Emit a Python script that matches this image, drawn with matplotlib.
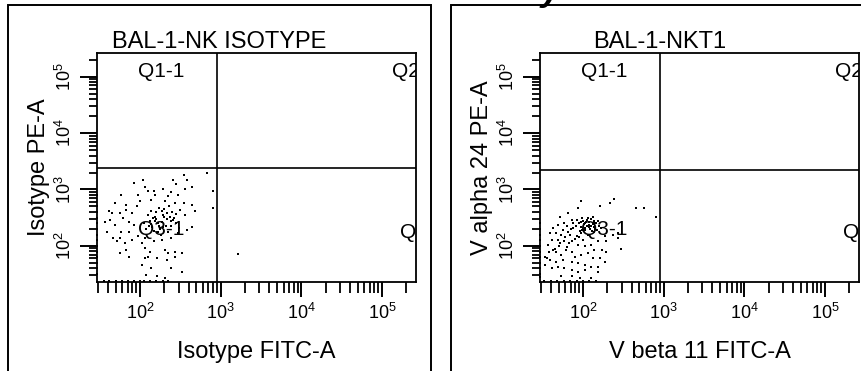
import numpy as np
import matplotlib
matplotlib.use("Agg")
import matplotlib.pyplot as plt
import matplotlib.patches as patches

plt.rcParams["font.family"] = ["Liberation Sans", "DejaVu Sans"]
plt.rcParams["mathtext.default"] = "regular"

# events as (log10 FITC-A, log10 PE-A)
iso_events = [
    (2.83, 3.29), (2.54, 3.26), (2.41, 3.17), (2.45, 3.10), (2.58, 3.17),
    (2.04, 3.17), (1.92, 3.12), (2.10, 2.98), (2.17, 2.98), (2.29, 3.01),
    (2.39, 2.96), (2.56, 3.01), (2.64, 3.05), (2.91, 2.98), (2.06, 3.05),
    (2.19, 2.91), (2.35, 2.89), (2.47, 2.91), (1.98, 2.91), (1.77, 2.91),
    (2.00, 2.79), (1.83, 2.73), (1.69, 2.76), (1.61, 2.61), (1.65, 2.58),
    (1.75, 2.58), (1.83, 2.64), (1.90, 2.58), (1.96, 2.70), (2.14, 2.82),
    (2.31, 2.79), (2.43, 2.76), (2.54, 2.76), (2.64, 2.73), (2.68, 2.61),
    (2.50, 2.64), (2.56, 2.55), (1.57, 2.43), (1.63, 2.46), (1.69, 2.37),
    (1.79, 2.49), (1.86, 2.43), (1.92, 2.37), (1.86, 2.25), (1.77, 2.25),
    (1.59, 2.25), (1.67, 2.14), (1.71, 2.08), (1.75, 2.14), (1.81, 2.05),
    (1.90, 2.11), (1.98, 2.17), (2.02, 2.05), (2.06, 2.14), (2.17, 2.08),
    (2.27, 2.11), (2.39, 2.14), (2.47, 2.23), (2.58, 2.28), (2.64, 2.34),
    (2.06, 1.96), (2.12, 1.90), (2.31, 1.93), (2.35, 1.87), (2.43, 1.90),
    (2.52, 1.87), (1.75, 1.87), (1.83, 1.93), (1.86, 1.81), (2.06, 1.78),
    (2.10, 1.81), (2.21, 1.78), (2.33, 1.75), (2.43, 1.81), (2.02, 1.66),
    (2.14, 1.60), (2.39, 1.60), (2.52, 1.54), (2.08, 1.49), (2.21, 1.46),
    (2.31, 1.43), (2.91, 2.67), (3.21, 1.86),
    # dense core under the Q3-1 label
    (2.12, 2.45), (2.18, 2.52), (2.22, 2.40), (2.28, 2.55), (2.33, 2.47),
    (2.38, 2.35), (2.25, 2.30), (2.15, 2.33), (2.20, 2.60), (2.30, 2.65),
    (2.42, 2.50), (2.45, 2.40), (2.10, 2.55), (2.35, 2.25), (2.27, 2.42),
    (2.17, 2.27), (2.40, 2.60), (2.23, 2.68), (2.05, 2.40), (2.48, 2.32),
    (2.32, 2.36), (2.13, 2.62), (2.36, 2.70), (2.20, 2.48), (2.08, 2.30),
    (2.44, 2.56), (2.26, 2.20), (2.38, 2.44), (2.14, 2.39), (2.30, 2.52),
    (2.24, 2.36), (2.19, 2.44), (2.34, 2.58), (2.29, 2.33), (2.16, 2.50),
    (2.41, 2.46), (2.27, 2.62), (2.11, 2.36), (2.37, 2.52), (2.22, 2.25),
    # piled up on the axes
    (1.47, 2.90), (1.47, 2.70), (1.47, 2.60), (1.47, 2.50), (1.47, 2.40),
    (1.47, 2.30), (1.47, 2.20), (1.47, 2.10), (1.47, 2.00), (1.47, 1.90),
    (1.47, 1.80), (1.47, 1.70), (1.47, 1.60), (1.47, 1.50),
    (1.55, 1.37), (1.62, 1.37), (1.70, 1.37), (1.78, 1.37), (1.85, 1.37),
    (1.92, 1.37), (2.00, 1.37), (2.05, 1.37), (2.12, 1.37), (2.20, 1.37),
    (2.28, 1.37), (2.35, 1.37),
]

nkt_events = [
    (1.98, 2.79), (2.21, 2.70), (2.33, 2.76), (2.39, 2.83), (2.66, 2.67),
    (2.76, 2.67), (2.91, 2.52), (2.47, 1.94), (1.94, 2.67), (1.81, 2.58),
    (1.71, 2.52), (1.86, 2.46), (1.77, 2.40), (1.69, 2.37), (1.63, 2.31),
    (1.59, 2.23), (1.67, 2.23), (1.73, 2.20), (1.81, 2.25), (1.88, 2.31),
    (1.92, 2.17), (1.98, 2.23), (2.06, 2.20), (2.14, 2.25), (2.27, 2.17),
    (2.37, 2.20), (2.43, 2.14), (2.43, 2.23), (2.29, 2.08), (2.19, 2.08),
    (2.10, 2.02), (2.02, 1.99), (1.94, 2.02), (1.86, 2.08), (1.77, 2.08),
    (1.69, 2.11), (1.61, 2.11), (1.57, 2.02), (1.63, 1.93), (1.67, 1.90),
    (1.73, 1.84), (1.79, 1.93), (1.86, 1.90), (1.90, 1.81), (1.98, 1.84),
    (2.06, 1.87), (2.14, 1.93), (2.23, 1.93), (2.29, 1.90), (2.12, 1.78),
    (2.21, 1.78), (2.27, 1.72), (2.19, 1.63), (2.10, 1.63), (2.02, 1.66),
    (1.94, 1.69), (1.86, 1.72), (1.75, 1.75), (1.67, 1.72), (1.59, 1.75),
    (1.55, 1.78), (1.53, 1.66), (1.61, 1.60), (1.69, 1.63), (1.77, 1.60),
    (1.86, 1.57), (1.94, 1.54), (2.02, 1.57), (2.19, 1.54), (1.73, 1.46),
    (1.86, 1.46), (1.96, 1.43), (2.10, 1.43), (1.53, 1.81),
    # dense core under the Q3-1 label
    (1.95, 2.40), (2.00, 2.45), (2.05, 2.35), (2.08, 2.42), (2.12, 2.38),
    (2.15, 2.30), (2.03, 2.28), (1.98, 2.33), (2.10, 2.48), (2.18, 2.44),
    (2.06, 2.50), (1.93, 2.46), (2.13, 2.34), (2.01, 2.38), (2.09, 2.30),
    (2.16, 2.40), (1.96, 2.27), (2.04, 2.42), (2.11, 2.26), (2.20, 2.35),
    (1.99, 2.50), (2.07, 2.37), (2.14, 2.45), (2.02, 2.32), (1.91, 2.35),
    (2.17, 2.28), (2.05, 2.46), (1.97, 2.42), (2.12, 2.52), (2.22, 2.32),
    (1.88, 2.40), (1.85, 2.30), (1.80, 2.35), (1.84, 2.20), (1.78, 2.15),
    (1.75, 2.28), (1.90, 2.12), (1.83, 2.05), (1.95, 2.15), (2.00, 2.10),
    (2.08, 2.33), (2.03, 2.40), (2.13, 2.41), (1.99, 2.28), (2.10, 2.36),
    (1.70, 2.00), (1.65, 1.95), (1.80, 1.98), (1.72, 2.05), (1.58, 1.90),
    # piled up on the axes
    (1.47, 2.40), (1.47, 2.30), (1.47, 2.20), (1.47, 2.10), (1.47, 2.00),
    (1.47, 1.90), (1.47, 1.80), (1.47, 1.70), (1.47, 1.60), (1.47, 1.50),
    (1.47, 1.45),
    (1.52, 1.37), (1.60, 1.37), (1.68, 1.37), (1.76, 1.37), (1.84, 1.37),
    (1.92, 1.37), (2.00, 1.37), (2.08, 1.37), (2.16, 1.37),
]

panels = [
    ("BAL-1-NK ISOTYPE", "Isotype FITC-A", "Isotype PE-A", iso_events, 3.385),
    ("BAL-1-NKT1", "V beta 11 FITC-A", "V alpha 24 PE-A", nkt_events, 3.35),
]
gate_x = 2.955
x_lim = (1.467, 5.42)
y_lim = (1.36, 5.42)
decades = [2, 3, 4, 5]

W, H = 861, 371
fig = plt.figure(figsize=(W / 100, H / 100), dpi=100)

axes_left = [97, 540]
frame_left = [8, 451]
frame_right = [431, 900]
title_x = [219.5, 660]

for i, (title, xlab, ylab, events, gate_y) in enumerate(panels):
    # outer panel frame
    fig.add_artist(patches.Rectangle(
        (frame_left[i] / W, -0.1), (frame_right[i] - frame_left[i]) / W,
        1.1 - 5 / H, transform=fig.transFigure, fill=False,
        edgecolor="black", lw=1.4))

    ax = fig.add_axes([axes_left[i] / W, 1 - 282 / H, 319 / W, 229 / H])
    ev = np.array(events)
    ax.plot(10 ** ev[:, 0], 10 ** ev[:, 1], "s", ms=2.0, mew=0,
            color="black", clip_on=False, zorder=2, antialiased=False)
    ax.set_xscale("log")
    ax.set_yscale("log")
    ax.set_xlim(10 ** x_lim[0], 10 ** x_lim[1])
    ax.set_ylim(10 ** y_lim[0], 10 ** y_lim[1])

    ax.axvline(10 ** gate_x, color="black", lw=1.2)
    ax.axhline(10 ** gate_y, color="black", lw=1.2)

    ax.set_xticks([10 ** d for d in decades])
    ax.set_xticklabels([f"$10^{{{d}}}$" for d in decades])
    ax.set_yticks([10 ** d for d in decades])
    ax.set_yticklabels([f"$10^{{{d}}}$" for d in decades])
    ax.tick_params(axis="x", which="major", length=11, width=1.4, pad=4,
                   labelsize=13)
    ax.tick_params(axis="x", which="minor", length=8, width=1.3)
    ax.tick_params(axis="y", which="major", length=12.5, width=1.4, pad=3,
                   labelsize=13, labelrotation=90)
    ax.tick_params(axis="y", which="minor", length=6, width=1.3)
    for lab in ax.get_yticklabels():
        lab.set_va("center")
    for s in ax.spines.values():
        s.set_linewidth(1.3)

    ax.text(0.5, -0.332, xlab, transform=ax.transAxes, ha="center",
            va="baseline", fontsize=17)
    ax.text(-0.163, 0.5, ylab, transform=ax.transAxes, ha="center",
            va="baseline", rotation=90, rotation_mode="anchor", fontsize=17)

    # quadrant names, drawn over the events
    qkw = dict(transform=ax.transAxes, va="baseline", fontsize=15, zorder=5)
    ax.text(0.2006, 0.895, "Q1-1", ha="center", **qkw)
    ax.text(0.925, 0.895, "Q2", ha="left", clip_on=True, **qkw)
    ax.text(0.2006, 0.205, "Q3-1", ha="center", **qkw)
    ax.text(0.95, 0.19, "Q4", ha="left", clip_on=True, **qkw)

    fig.text(title_x[i] / W, 1 - 48 / H, title, ha="center", va="baseline",
             fontsize=17)

# descender of a heading cut off above the picture
fig.text(551 / W, 1 + 0.3 / H, "y", ha="center", va="baseline", fontsize=26,
         fontweight="bold", style="italic")

fig.savefig("out.png", dpi=100)
